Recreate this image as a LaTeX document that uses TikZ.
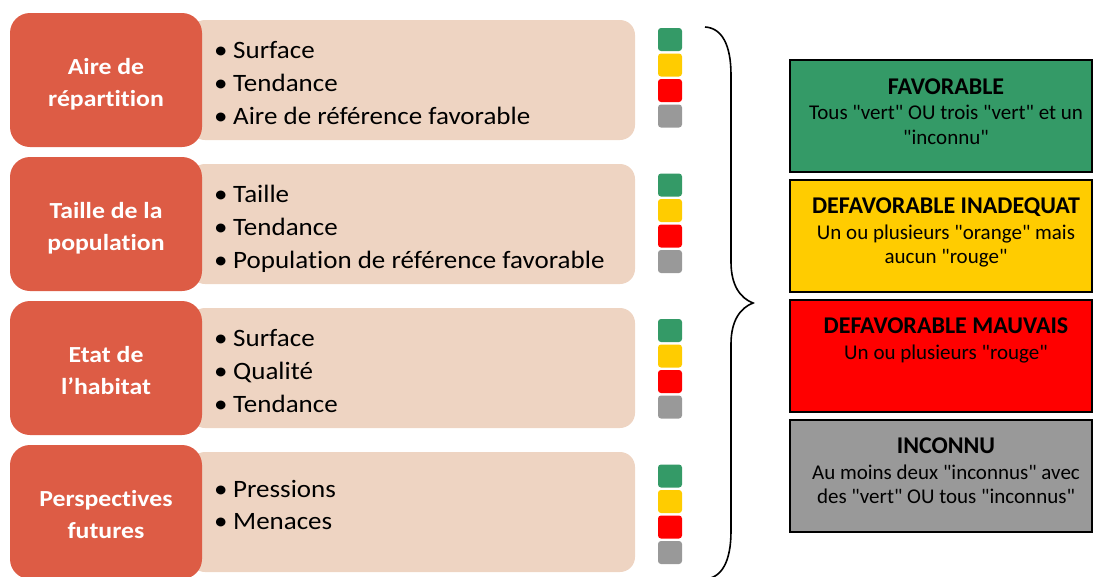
\documentclass[tikz,border=0pt]{standalone}
\usepackage{fontspec}
\setmainfont{Carlito}[Ligatures={TeXOff,NoCommon}]
\newfontfamily\itemfont{Carlito}[Ligatures={TeXOff,NoCommon},FakeStretch=1.08]
\newfontfamily\catfont{Carlito}[Ligatures={TeXOff,NoCommon},FakeStretch=1.12]
\definecolor{redbox}{HTML}{DD5C45}
\definecolor{beige}{HTML}{EED4C2}
\definecolor{sgreen}{HTML}{349A67}
\definecolor{syellow}{HTML}{FFCC00}
\definecolor{sred}{HTML}{FF0000}
\definecolor{sgray}{HTML}{999999}
\tikzset{
  cat/.style={rectangle, rounded corners=20pt, fill=redbox, minimum width=192pt, minimum height=134pt, inner sep=0pt},
  detail/.style={rectangle, rounded corners=15pt, fill=beige, minimum width=445pt, minimum height=120pt, inner sep=0pt},
  cattext/.style={anchor=base, inner sep=0pt, text=white, font=\catfont\fontsize{23}{28}\selectfont\bfseries},
  item/.style={anchor=base west, inner sep=0pt, font=\itemfont\fontsize{25}{30}\selectfont},
  sq/.style={rectangle, rounded corners=3pt, minimum width=24pt, minimum height=23pt, inner sep=0pt},
  statebox/.style={rectangle, draw=black, line width=1.5pt, minimum width=302pt, minimum height=112pt, inner sep=0pt},
  sttitle/.style={anchor=base, inner sep=0pt, font=\fontsize{24}{28}\selectfont\bfseries},
  stbody/.style={anchor=base, inner sep=0pt, font=\fontsize{21}{25}\selectfont},
  brace/.style={draw=black, line width=1.6pt}
}
\newcommand{\bul}[1]{\makebox[19pt][l]{•}#1}
\begin{document}
\begin{tikzpicture}[x=1pt,y=-1pt]
\useasboundingbox (0,0) rectangle (1093,576);
% detail boxes
\node[detail] (d1) at (412.5,80) {};
\node[detail] (d2) at (412.5,224) {};
\node[detail] (d3) at (412.5,368) {};
\node[detail] (d4) at (412.5,512) {};
% category boxes
\node[cat] (c1) at (106,80) {};
\node[cat] (c2) at (106,224) {};
\node[cat] (c3) at (106,368) {};
\node[cat] (c4) at (106,512) {};
% category texts
\node[cattext] (c1a) at (106,74) {Aire de};
\node[cattext] (c1b) at (106,106) {répartition};
\node[cattext] (c2a) at (106,218) {Taille de la};
\node[cattext] (c2b) at (106,250) {population};
\node[cattext] (c3a) at (106,362) {Etat de};
\node[cattext] (c3b) at (106,394) {l’habitat};
\node[cattext] (c4a) at (106,506) {Perspectives};
\node[cattext] (c4b) at (106,538) {futures};
% items
\node[item] (i1a) at (214,58) {\bul{Surface}};
\node[item] (i1b) at (214,91) {\bul{Tendance}};
\node[item] (i1c) at (214,124) {\bul{Aire de référence favorable}};
\node[item] (i2a) at (214,202) {\bul{Taille}};
\node[item] (i2b) at (214,235) {\bul{Tendance}};
\node[item] (i2c) at (214,268) {\bul{Population de référence favorable}};
\node[item] (i3a) at (214,346) {\bul{Surface}};
\node[item] (i3b) at (214,379) {\bul{Qualité}};
\node[item] (i3c) at (214,412) {\bul{Tendance}};
\node[item] (i4a) at (214,497) {\bul{Pressions}};
\node[item] (i4b) at (214,529) {\bul{Menaces}};
% squares
\foreach \r in {0,1,2,3}{
  \node[sq, fill=sgreen]  (sqg\r) at (670,{39.5+145.5*\r}) {};
  \node[sq, fill=syellow] (sqy\r) at (670,{65+145.5*\r}) {};
  \node[sq, fill=sred]    (sqr\r) at (670,{90.5+145.5*\r}) {};
  \node[sq, fill=sgray]   (sqk\r) at (670,{116+145.5*\r}) {};
}
% brace
\coordinate (bt) at (705,27);
\coordinate (bm) at (753,303);
\coordinate (bb) at (705,579);
\draw[brace] (bt) .. controls (722,28) and (731,45) .. (731,75) -- (731,262)
  .. controls (731,285) and (740,298) .. (bm)
  .. controls (740,308) and (731,321) .. (731,344) -- (731,531)
  .. controls (731,561) and (722,578) .. (bb);
% state boxes
\node[statebox, fill=sgreen]  (s1) at (941,116) {};
\node[statebox, fill=syellow] (s2) at (941,236) {};
\node[statebox, fill=sred]    (s3) at (941,356) {};
\node[statebox, fill=sgray]   (s4) at (941,476) {};
\node[sttitle] (s1t) at (946,94) {FAVORABLE};
\node[stbody] (s1a) at (946,119.5) {Tous "vert" OU trois "vert" et un};
\node[stbody] (s1b) at (946,144) {"inconnu"};
\node[sttitle] (s2t) at (946,213) {DEFAVORABLE INADEQUAT};
\node[stbody] (s2a) at (946,239) {Un ou plusieurs "orange" mais};
\node[stbody] (s2b) at (946,263.5) {aucun "rouge"};
\node[sttitle] (s3t) at (946,333) {DEFAVORABLE MAUVAIS};
\node[stbody] (s3a) at (946,359) {Un ou plusieurs "rouge"};
\node[sttitle] (s4t) at (946,453) {INCONNU};
\node[stbody] (s4a) at (946,479.5) {Au moins deux "inconnus" avec};
\node[stbody] (s4b) at (946,503.5) {des "vert" OU tous "inconnus"};
\end{tikzpicture}
\end{document}
